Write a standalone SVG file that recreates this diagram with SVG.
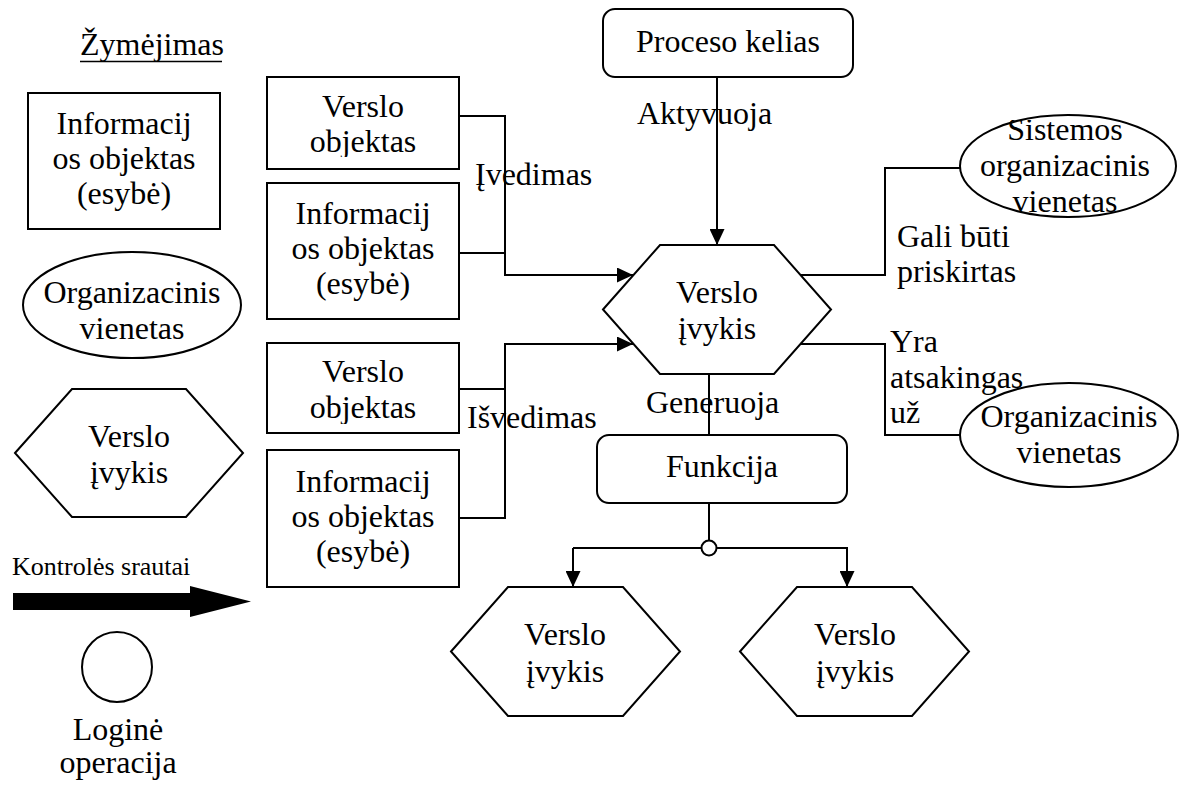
<svg xmlns="http://www.w3.org/2000/svg" width="1181" height="785" viewBox="0 0 1181 785" font-family="Liberation Serif, Times New Roman, serif">
  <style>
    .shape { fill: #ffffff; stroke: #000000; stroke-width: 2; }
    .line { fill: none; stroke: #000000; stroke-width: 2; }
    text { font-family: 'Liberation Serif', 'Times New Roman', Times, serif; font-size: 32px; fill: #000000; }
    .c { text-anchor: middle; }
    .small { font-size: 26px; }
  </style>
  <defs>
    <marker id="arrow" markerWidth="16" markerHeight="15" refX="16" refY="7.5" orient="auto" markerUnits="userSpaceOnUse">
      <path d="M0,0 L16,7.5 L0,15 Z" fill="#000000"/>
    </marker>
    <!-- text frames that cut off overflowing glyphs -->
    <clipPath id="frame-obj-in"><rect x="267" y="77" width="192" height="80"/></clipPath>
    <clipPath id="frame-obj-out"><rect x="267" y="343" width="192" height="81"/></clipPath>
    <clipPath id="frame-sys-unit"><rect x="960" y="120" width="217" height="100"/></clipPath>
  </defs>

  <rect width="1181" height="785" fill="#ffffff"/>

  <!-- Legend -->
  <g id="legend">
    <text x="80" y="55">Žymėjimas</text>
    <line x1="80" y1="61.5" x2="222" y2="61.5" stroke="#000" stroke-width="1.5"/>
    <g id="legend-info-object">
      <rect class="shape" x="28" y="93" width="192" height="136"/>
      <text class="c" x="124" y="134">Informacij</text>
      <text class="c" x="124" y="169">os objektas</text>
      <text class="c" x="124" y="204">(esybė)</text>
    </g>
    <g id="legend-org-unit">
      <ellipse class="shape" cx="132" cy="305" rx="109" ry="53"/>
      <text class="c" x="132" y="303">Organizacinis</text>
      <text class="c" x="132" y="339">vienetas</text>
    </g>
    <g id="legend-event">
      <polygon class="shape" points="15,453 72,389 186,389 243,453 186,517 72,517"/>
      <text class="c" x="129" y="447">Verslo</text>
      <text class="c" x="129" y="483">įvykis</text>
    </g>
    <g id="legend-control-flow">
      <text class="small" x="12" y="575">Kontrolės srautai</text>
      <polygon points="13,593 190,593 190,586 251,601.5 190,617 190,610 13,610" fill="#000000"/>
    </g>
    <g id="legend-logic-op">
      <circle class="shape" cx="117" cy="667" r="35"/>
      <text class="c" x="118" y="740">Loginė</text>
      <text class="c" x="118" y="773">operacija</text>
    </g>
  </g>

  <!-- Connectors -->
  <g id="connectors">
    <!-- inputs -->
    <polyline class="line" points="459,116 505,116 505,275 633,275" marker-end="url(#arrow)"/>
    <line class="line" x1="459" y1="253" x2="505" y2="253"/>
    <!-- outputs -->
    <polyline class="line" points="459,389 505,389 505,344 633,344" marker-end="url(#arrow)"/>
    <polyline class="line" points="459,518 505,518 505,344"/>
    <!-- process path activates event -->
    <line class="line" x1="717" y1="77" x2="717" y2="245" marker-end="url(#arrow)"/>
    <!-- organisational links -->
    <polyline class="line" points="801,275 885,275 885,168 960,168"/>
    <polyline class="line" points="801,344 885,344 885,435 960,435"/>
    <!-- event generates function -->
    <line class="line" x1="709" y1="374" x2="709" y2="435"/>
    <!-- function to logical operator and branches -->
    <line class="line" x1="709" y1="503" x2="709" y2="540.5"/>
    <line class="line" x1="701.5" y1="548" x2="573" y2="548"/>
    <line class="line" x1="573" y1="548" x2="573" y2="587" marker-end="url(#arrow)"/>
    <polyline class="line" points="716.5,548 847,548 847,587" marker-end="url(#arrow)"/>
    <circle class="shape" cx="709" cy="548" r="7.5"/>
    <!-- connector labels -->
    <text x="475" y="185">Įvedimas</text>
    <text x="467" y="428">Išvedimas</text>
    <text x="637" y="124">Aktyvuoja</text>
    <text x="646" y="413">Generuoja</text>
    <text x="897" y="247">Gali būti</text>
    <text x="897" y="282">priskirtas</text>
    <text x="890" y="352">Yra</text>
    <text x="890" y="388">atsakingas</text>
    <text x="890" y="423">už</text>
  </g>

  <!-- Nodes -->
  <g id="business-object-in">
    <rect class="shape" x="267" y="77" width="192" height="92"/>
    <g clip-path="url(#frame-obj-in)">
      <text class="c" x="363" y="117">Verslo</text>
      <text class="c" x="363" y="152">objektas</text>
    </g>
  </g>
  <g id="info-object-in">
    <rect class="shape" x="267" y="183" width="192" height="136"/>
    <text class="c" x="363" y="224">Informacij</text>
    <text class="c" x="363" y="259">os objektas</text>
    <text class="c" x="363" y="294">(esybė)</text>
  </g>
  <g id="business-object-out">
    <rect class="shape" x="267" y="343" width="192" height="90"/>
    <g clip-path="url(#frame-obj-out)">
      <text class="c" x="363" y="382">Verslo</text>
      <text class="c" x="363" y="418">objektas</text>
    </g>
  </g>
  <g id="info-object-out">
    <rect class="shape" x="267" y="450" width="192" height="137"/>
    <text class="c" x="363" y="492">Informacij</text>
    <text class="c" x="363" y="527">os objektas</text>
    <text class="c" x="363" y="562">(esybė)</text>
  </g>
  <g id="process-path">
    <rect class="shape" x="603" y="9" width="250" height="68" rx="12"/>
    <text class="c" x="728" y="52">Proceso kelias</text>
  </g>
  <g id="event-main">
    <polygon class="shape" points="603,309.5 660,245 774,245 831,309.5 774,374 660,374"/>
    <text class="c" x="717" y="303">Verslo</text>
    <text class="c" x="717" y="339">įvykis</text>
  </g>
  <g id="system-org-unit">
    <ellipse class="shape" cx="1068" cy="166" rx="108" ry="51"/>
    <g clip-path="url(#frame-sys-unit)">
      <text class="c" x="1065" y="140">Sistemos</text>
      <text class="c" x="1065" y="176">organizacinis</text>
      <text class="c" x="1065" y="212">vienetas</text>
    </g>
  </g>
  <g id="org-unit">
    <ellipse class="shape" cx="1069" cy="435" rx="109" ry="52"/>
    <text class="c" x="1069" y="427">Organizacinis</text>
    <text class="c" x="1069" y="463">vienetas</text>
  </g>
  <g id="function">
    <rect class="shape" x="597" y="435" width="250" height="68" rx="12"/>
    <text class="c" x="722" y="477">Funkcija</text>
  </g>
  <g id="event-left">
    <polygon class="shape" points="451,651.5 508,587 623,587 680,651.5 623,716 508,716"/>
    <text class="c" x="565" y="645">Verslo</text>
    <text class="c" x="565" y="682">įvykis</text>
  </g>
  <g id="event-right">
    <polygon class="shape" points="740,651.5 797,587 912,587 969,651.5 912,716 797,716"/>
    <text class="c" x="855" y="645">Verslo</text>
    <text class="c" x="855" y="682">įvykis</text>
  </g>
</svg>
